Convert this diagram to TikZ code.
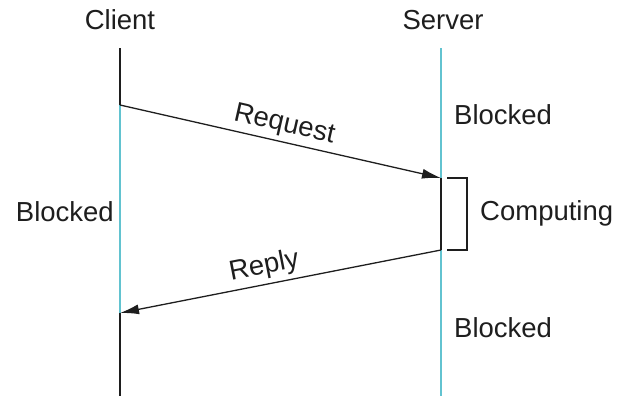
\documentclass[tikz,border=0pt]{standalone}
\usepackage{fontspec}
\setmainfont{Liberation Sans}
\usetikzlibrary{arrows.meta,positioning}
\usepackage{xcolor}
\definecolor{lifeBlue}{HTML}{62C3D0}
\definecolor{darkGray}{HTML}{1E1E1E}
\tikzset{
    label/.style={
        font=\fontsize{27.5}{33}\selectfont,
        text=darkGray,
        inner sep=1pt
    },
    lifeline/.style={line width=1.5pt,draw=darkGray},
    active/.style={line width=1.5pt,draw=lifeBlue},
    message/.style={-{Latex[length=19pt,width=10pt]},line width=1.3pt,draw=darkGray},
    bracket/.style={line width=1.3pt,draw=darkGray}
}
\begin{document}
\begin{tikzpicture}[x=1pt,y=-1pt]
    \useasboundingbox (0,0) rectangle (629,397);

    % lifeline points
    \coordinate (ctop) at (120,48);
    \coordinate (creq) at (120,105);
    \coordinate (crep) at (120,313);
    \coordinate (cbot) at (120,396);
    \coordinate (stop) at (441,48);
    \coordinate (sreq) at (441,178);
    \coordinate (srep) at (441,250);
    \coordinate (sbot) at (441,396);

    \node[label] (client) at (120,20) {Client};
    \node[label] (server) at (443,20) {Server};

    % client lifeline
    \draw[lifeline] (ctop) -- (creq);
    \draw[active] (creq) -- (crep);
    \draw[lifeline] (crep) -- (cbot);

    % server lifeline
    \draw[active] (stop) -- (sreq);
    \draw[lifeline] (sreq) -- (srep);
    \draw[active] (srep) -- (sbot);

    % messages
    \draw[message] (creq) -- node[label, sloped, above=3pt] (req) {Request} (sreq);
    \draw[message] (srep) -- node[label, sloped, above=3pt, pos=0.54] (rep) {Reply} (crep);

    % computing bracket
    \coordinate (btop) at (447,178);
    \coordinate (bbot) at (447,250);
    \draw[bracket] (btop) -- ++(20,0) |- (bbot);

    \node[label, anchor=east] (cblocked) at (115,212) {Blocked};
    \node[label, anchor=west] (sblocked1) at (453,115) {Blocked};
    \node[label, anchor=west] (computing) at (479,213) {Computing};
    \node[label, anchor=west] (sblocked2) at (453,328) {Blocked};
\end{tikzpicture}
\end{document}
